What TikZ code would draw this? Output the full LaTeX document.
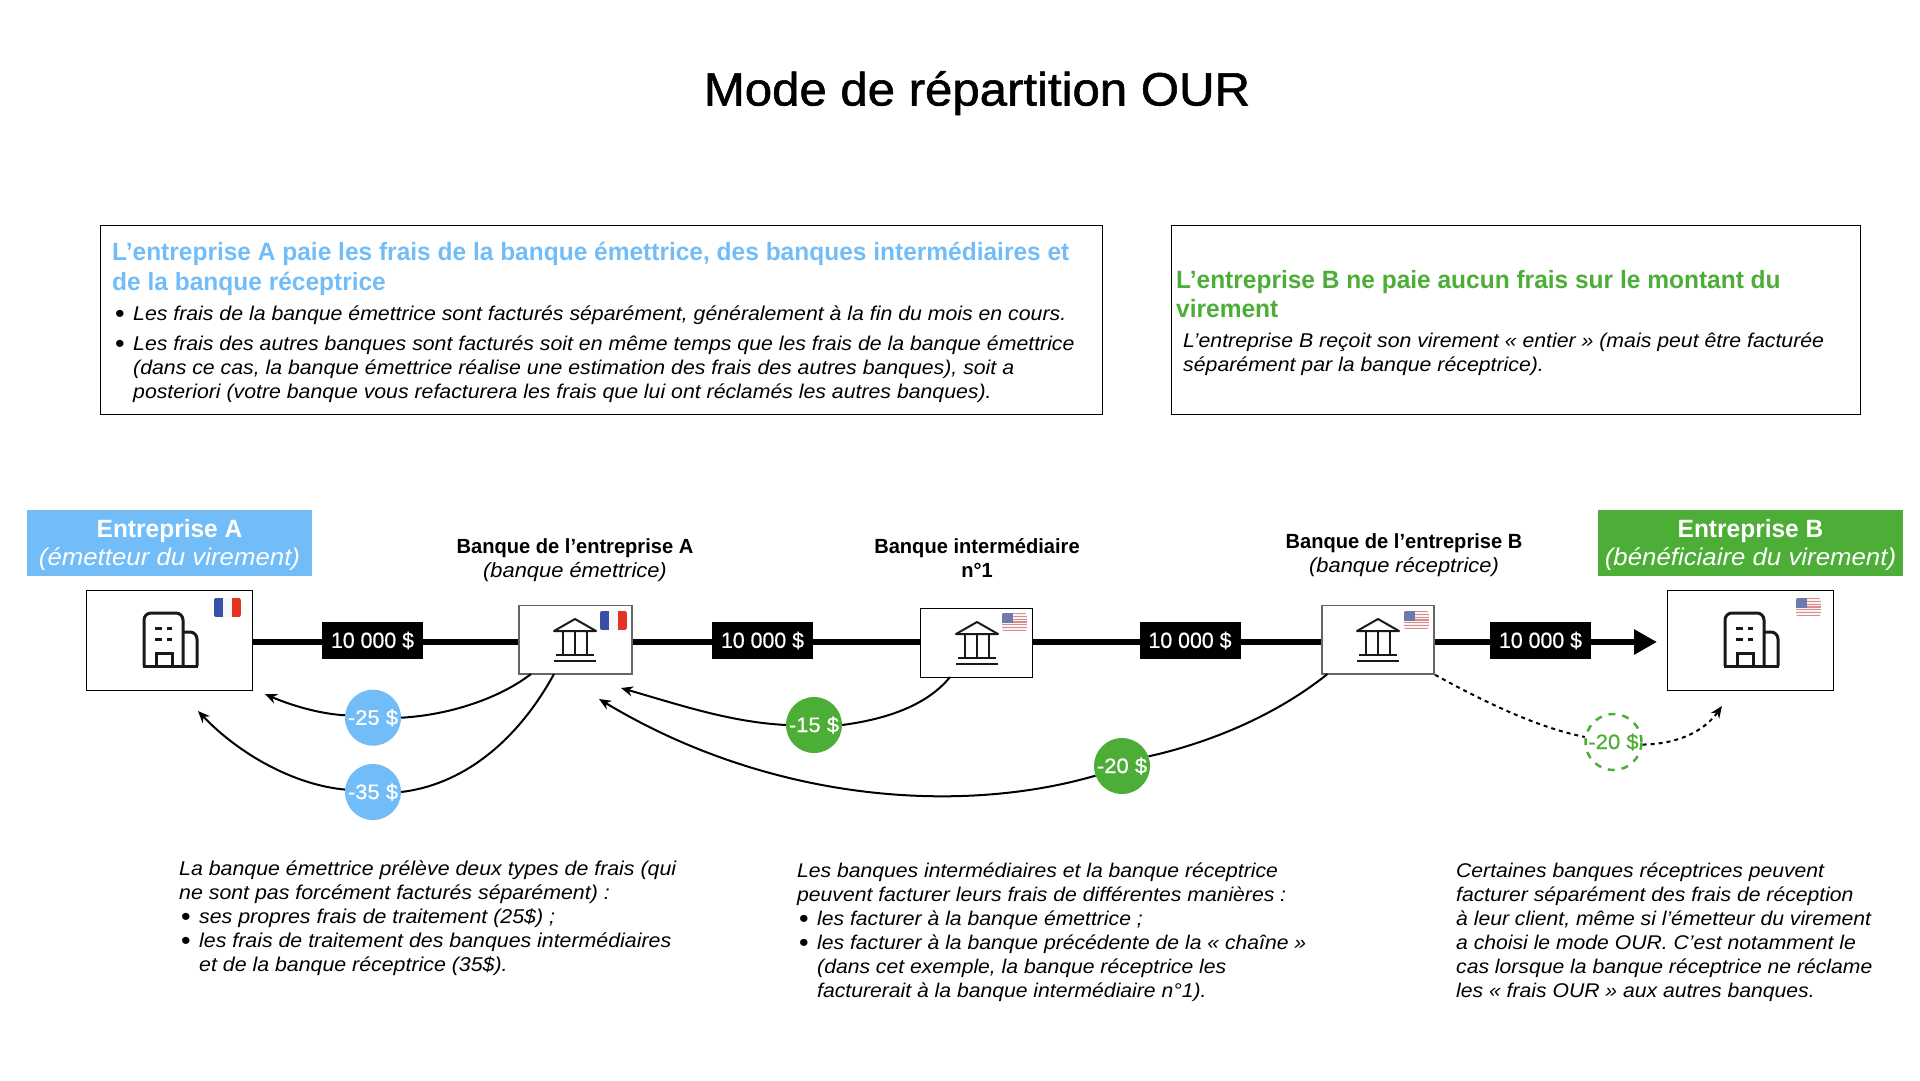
\documentclass[tikz,border=0pt]{standalone}
\usepackage{fontspec}
\setmainfont{Liberation Sans}[UprightFeatures={FakeStretch=1.05},BoldFeatures={FakeStretch=0.98},ItalicFeatures={FakeStretch=1.067}]
\newfontfamily\titlefont[FakeStretch=1.05,FakeBold=1.2]{Liberation Sans}
\newfontfamily\amountfont[FakeStretch=0.97,FakeBold=0.6]{Liberation Sans}
\newfontfamily\feefont[FakeStretch=1.05,FakeBold=0.6]{Liberation Sans}
\usetikzlibrary{arrows.meta,calc}
\definecolor{bleuA}{HTML}{72BDF8}
\definecolor{vertB}{HTML}{4DAE37}
\definecolor{frblue}{HTML}{3A4FA8}
\definecolor{frred}{HTML}{E53323}
\definecolor{usred}{HTML}{DE8A8A}
\definecolor{usblue}{HTML}{6E7AAE}
\newcommand{\Bul}{\makebox[20pt][l]{\hspace{2pt}\raisebox{-2pt}{\upshape\fontsize{26}{24}\selectfont•}}}
\newcommand{\Ind}{\hspace*{20pt}}
\tikzset{
  frame/.style={draw=black,line width=1pt,fill=white,inner sep=0,minimum width=#1},
  cobox/.style={frame=166pt,minimum height=100.5pt},
  bankbox/.style={frame=112.5pt,minimum height=68.5pt},
  greybox/.style={draw=black!60,line width=1.6pt},
  rail/.style={line width=6pt,draw=black},
  amount/.style={fill=black,text=white,inner sep=0,minimum width=101pt,minimum height=37pt,font=\fontsize{22}{26}\amountfont},
  fee/.style={circle,inner sep=0,minimum size=56pt,text=white,font=\fontsize{21}{25}\feefont},
  feeline/.style={line width=2pt,draw=black},
  feearrow/.style={feeline,-{Stealth[length=12pt,width=10pt]}},
  header/.style={inner sep=0,minimum height=66pt,text=white,align=center},
  banklabel/.style={inner sep=0,align=center,font=\fontsize{20.5}{24.5}\selectfont},
  bodytext/.style={anchor=north west,inner sep=0,align=left,font=\fontsize{20}{24}\selectfont\itshape},
  bodytextb/.style={anchor=north west,inner sep=0,align=left,font=\fontsize{19.82}{24}\selectfont\itshape},
  bodytextc/.style={anchor=north west,inner sep=0,align=left,font=\fontsize{19.94}{24}\selectfont\itshape},
  boxtitle/.style={anchor=north west,inner sep=0,align=left,font=\fontsize{25}{29.5}\selectfont\bfseries},
  infobox/.style={draw=black,line width=1pt,inner sep=0},
  buildingicon/.pic={
    \begin{scope}[line width=3pt,draw=black!90]
      \draw[rounded corners=7pt] (0,53)--(0,0)--(39,0)--(39,53);
      \draw[rounded corners=7pt] (39,19)--(53,19)--(53,53);
      \draw (-1,53)--(54,53);
      \draw (12,53)--(12,40)--(28,40)--(28,53);
      \draw (11,15)--(18,15) (23,15)--(28,15) (11,26)--(18,26) (23,26)--(28,26);
    \end{scope}},
  bankicon/.pic={
    \begin{scope}[line width=2pt,draw=black!90]
      \draw[line join=round] (-21,12)--(0,0)--(21,12)--cycle;
      \draw (-12,12)--(-12,36) (0,12)--(0,36) (12,12)--(12,36);
      \draw (-19,36)--(19,36) (-21,42)--(21,42);
    \end{scope}},
  frflag/.pic={
    \begin{scope}
      \clip[rounded corners=2pt] (0,0) rectangle (27,19);
      \fill[frblue] (0,0) rectangle (9,19);
      \fill[black!3] (9,0) rectangle (18,19);
      \fill[frred] (18,0) rectangle (27,19);
    \end{scope}},
  usflag/.pic={
    \begin{scope}
      \clip[rounded corners=2pt] (0,0) rectangle (25,18);
      \fill[black!4] (0,0) rectangle (25,18);
      \foreach \i in {0,2,...,12} {\fill[usred] (0,{\i*18/13}) rectangle (25,{(\i+1)*18/13});}
      \fill[usblue] (0,0) rectangle (11,9.7);
    \end{scope}},
}
\begin{document}
\begin{tikzpicture}[x=1pt,y=-1pt]
\useasboundingbox (0,0) rectangle (1920,1080);
% title
\node[inner sep=0,anchor=base,font=\fontsize{46.8}{56}\titlefont] (titre) at (977,105.5) {Mode de répartition OUR};
% info boxes
\node[infobox,minimum width=1002pt,minimum height=189pt,anchor=north west] (infoA) at (100,225) {};
\node[infobox,minimum width=689pt,minimum height=189pt,anchor=north west] (infoB) at (1171,225) {};
\node[boxtitle,text=bleuA] (titreA) at (112,240) {\strut L’entreprise A paie les frais de la banque émettrice, des banques intermédiaires et\\de la banque réceptrice};
\node[bodytextc] (corpsA) at (113,303.2) {\strut\Bul Les frais de la banque émettrice sont facturés séparément, généralement à la fin du mois en cours.\\[6pt]
\Bul Les frais des autres banques sont facturés soit en même temps que les frais de la banque émettrice\\
\Ind (dans ce cas, la banque émettrice réalise une estimation des frais des autres banques), soit a\\
\Ind posteriori (votre banque vous refacturera les frais que lui ont réclamés les autres banques).};
\node[boxtitle,text=vertB] (titreB) at (1176,267.2) {\strut L’entreprise B ne paie aucun frais sur le montant du\\virement};
\node[bodytextc] (corpsB) at (1183,330.2) {\strut L’entreprise B reçoit son virement « entier » (mais peut être facturée\\séparément par la banque réceptrice).};
% headers
\node[header,fill=bleuA,minimum width=285pt] (headA) at (169.5,543) {};
\node[header,fill=vertB,minimum width=305pt] (headB) at (1750.5,543) {};
\node[header,minimum height=0pt] (headAt) at (169.5,544.5) {{\fontsize{25}{31}\selectfont\bfseries Entreprise A}\\[4pt]{\fontsize{24.2}{31}\selectfont\itshape (émetteur du virement)}};
\node[header,minimum height=0pt] (headBt) at (1750.5,544.5) {{\fontsize{25}{31}\selectfont\bfseries Entreprise B}\\[4pt]{\fontsize{24.2}{31}\selectfont\itshape (bénéficiaire du virement)}};
% bank labels
\node[banklabel] (lblA) at (575,560) {\textbf{Banque de l’entreprise A}\\\textit{(banque émettrice)}};
\node[banklabel] (lblI) at (977,558) {\textbf{Banque intermédiaire}\\\textbf{n°1}};
\node[banklabel] (lblB) at (1404,555) {\textbf{Banque de l’entreprise B}\\\textit{(banque réceptrice)}};
% boxes
\node[cobox] (boxA) at (169.3,640.3) {};
\node[bankbox,greybox] (bankA) at (575.5,639.8) {};
\node[bankbox,minimum height=69pt] (bankI) at (976.3,642.5) {};
\node[bankbox,greybox] (bankB) at (1378,639.8) {};
\node[cobox] (boxB) at (1750.3,640.3) {};
% rail
\coordinate (railY) at (0,642);
\coordinate (tipB) at (1657,642);
\draw[rail] (boxA.east |- railY) -- (bankA.west |- railY);
\draw[rail] (bankA.east |- railY) -- (bankI.west |- railY);
\draw[rail] (bankI.east |- railY) -- (bankB.west |- railY);
\draw[rail,-{Triangle[length=23pt,width=24pt]}] (bankB.east |- railY) -- (tipB);
\node[amount] (m1) at (372.5,640.5) {10~000~\$};
\node[amount] (m2) at (762.5,640.5) {10~000~\$};
\node[amount] (m3) at (1190,640.5) {10~000~\$};
\node[amount] (m4) at (1540.5,640.5) {10~000~\$};
% icons
\pic at (144,613) {buildingicon};
\pic at (1725,613) {buildingicon};
\pic at (575,619) {bankicon};
\pic at (977,622) {bankicon};
\pic at (1378,619) {bankicon};
\pic at (214,598) {frflag};
\pic at (600,611) {frflag};
\pic at (1002,613) {usflag};
\pic at (1404,611) {usflag};
\pic at (1796,598) {usflag};
% fee circles
\node[fee,fill=bleuA] (f25) at (373,717.7) {-25~\$};
\node[fee,fill=bleuA] (f35) at (373,792) {-35~\$};
\node[fee,fill=vertB] (f15) at (814,725) {-15~\$};
\node[fee,fill=vertB] (f20) at (1122,766) {-20~\$};
\node[fee,draw=vertB,line width=2.5pt,dash pattern=on 7pt off 7pt,text=vertB] (f20b) at (1613.5,742) {-20~\$};
% free ends
\coordinate (s25) at (531,674);
\coordinate (e25) at (265,694);
\coordinate (s35) at (554,674);
\coordinate (e35) at (198,711);
\coordinate (s15) at (950,677);
\coordinate (e15) at (621,688);
\coordinate (s20) at (1327.5,674);
\coordinate (e20) at (599,699);
\coordinate (e20b) at (1722,706);
% fee connectors
\draw[feeline] (s25) .. controls (500,698) and (450,715) .. (f25.east);
\draw[feearrow] (f25.175) .. controls (320,714) and (290,705) .. (e25);
\draw[feeline] (s35) .. controls (515,745) and (460,785) .. (f35.east);
\draw[feearrow] (f35.175) .. controls (295,785) and (240,755) .. (e35);
\draw[feeline] (s15) .. controls (925,708) and (880,720) .. (f15.east);
\draw[feearrow] (f15.west) .. controls (730,722) and (680,705) .. (e15);
\draw[feeline] (s20) .. controls (1270,720) and (1200,745) .. (f20.20);
\draw[feearrow] (f20.200) .. controls (960,815) and (770,802) .. (e20);
\draw[feeline,dash pattern=on 4pt off 4pt] (bankB.south east) .. controls (1490,705) and (1540,728) .. (f20b.170);
\draw[feeline,dash pattern=on 4pt off 4pt,-{Stealth[length=12pt,width=10pt]}] (f20b.355) .. controls (1680,744) and (1705,730) .. (e20b);
% bottom texts
\node[bodytext] (txtA) at (179,858.2) {\strut La banque émettrice prélève deux types de frais (qui\\
ne sont pas forcément facturés séparément) :\\
\Bul ses propres frais de traitement (25\$) ;\\
\Bul les frais de traitement des banques intermédiaires\\
\Ind et de la banque réceptrice (35\$).};
\node[bodytextb] (txtI) at (797,860.2) {\strut Les banques intermédiaires et la banque réceptrice\\
peuvent facturer leurs frais de différentes manières :\\
\Bul les facturer à la banque émettrice ;\\
\Bul les facturer à la banque précédente de la « chaîne »\\
\Ind (dans cet exemple, la banque réceptrice les\\
\Ind facturerait à la banque intermédiaire n°1).};
\node[bodytextb] (txtB) at (1456,860.2) {\strut Certaines banques réceptrices peuvent\\
facturer séparément des frais de réception\\
à leur client, même si l’émetteur du virement\\
a choisi le mode OUR. C’est notamment le\\
cas lorsque la banque réceptrice ne réclame\\
les « frais OUR » aux autres banques.};
\end{tikzpicture}
\end{document}
